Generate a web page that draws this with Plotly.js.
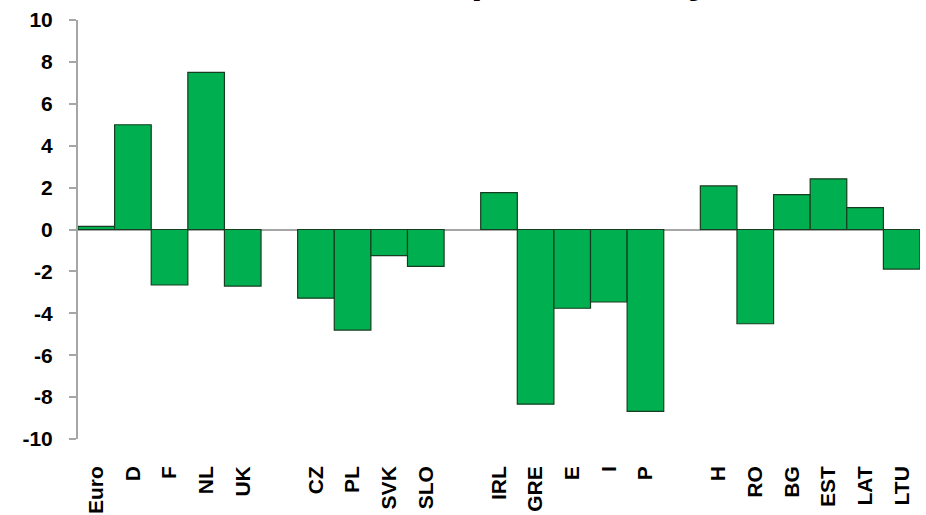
<!DOCTYPE html>
<html>
<head>
<meta charset="utf-8">
<script src="https://cdn.plot.ly/plotly-3.0.1.min.js"></script>
<style>
  html, body { margin: 0; padding: 0; background: #fff; }
  #plot { width: 926px; height: 515px; }
</style>
</head>
<body>
<div id="plot"></div>
<script>
// blank entries are the spaces between country groups
var countries = ['Euro', 'D', 'F', 'NL', 'UK', ' ',
                 'CZ', 'PL', 'SVK', 'SLO', '  ',
                 'IRL', 'GRE', 'E', 'I', 'P', '   ',
                 'H', 'RO', 'BG', 'EST', 'LAT', 'LTU'];
var values = [0.15, 5.0, -2.65, 7.5, -2.7, null,
              -3.28, -4.8, -1.25, -1.76, null,
              1.76, -8.34, -3.76, -3.46, -8.68, null,
              2.08, -4.5, 1.66, 2.42, 1.04, -1.89];
var yTicks = [-10, -8, -6, -4, -2, 0, 2, 4, 6, 8, 10];
var yTickText = ['-10', '-8', '-6', '-4', '-2', '0', '2', '4', '6', '8', '10'];

var trace1 = {
  x: countries,
  y: values,
  type: 'bar',
  marker: {
    color: '#00b050',
    line: {color: '#163d1f', width: 1.2}
  },
  hoverinfo: 'x+y'
};

var layout = {
  width: 926,
  height: 515,
  margin: {l: 78, r: 6, t: 20, b: 76},
  paper_bgcolor: '#ffffff',
  plot_bgcolor: '#ffffff',
  showlegend: false,
  bargap: 0,
  // the title sits mostly above the visible page, only its bottom edge shows
  annotations: [{
    text: 'Growth of productivity?',
    font: {family: 'Liberation Sans', size: 42, weight: 'bold', color: '#000'},
    xref: 'paper', x: 0.5, xanchor: 'center',
    yref: 'paper', y: 1.041, yanchor: 'bottom',
    showarrow: false
  }],
  xaxis: {
    type: 'category',
    tickangle: -90,
    showgrid: false,
    showline: false,
    ticks: '',
    ticklabelstandoff: 22,
    tickfont: {family: 'Liberation Sans', size: 21, weight: 'bold', color: '#000'},
    fixedrange: true
  },
  yaxis: {
    range: [-10, 10],
    tickvals: yTicks,
    ticktext: yTickText,
    showgrid: false,
    showline: true,
    linecolor: '#a6a6a6',
    linewidth: 2,
    ticks: 'outside',
    ticklen: 7,
    tickcolor: '#a6a6a6',
    tickwidth: 2,
    ticklabelstandoff: 12,
    zeroline: true,
    zerolinecolor: '#a6a6a6',
    zerolinewidth: 2,
    tickfont: {family: 'Liberation Sans', size: 21, weight: 'bold', color: '#000'},
    fixedrange: true
  }
};

Plotly.newPlot('plot', [trace1], layout, {displayModeBar: false, staticPlot: true});
</script>
</body>
</html>
